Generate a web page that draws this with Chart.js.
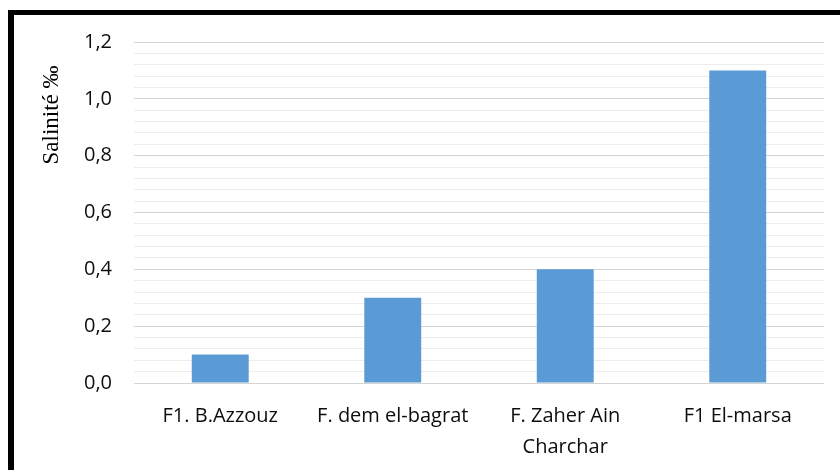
<!DOCTYPE html>
<html>
<head>
<meta charset="utf-8">
<script src="https://cdn.jsdelivr.net/npm/chart.js@4.4.1/dist/chart.umd.min.js"></script>
<style>
    html, body { margin: 0; padding: 0; background: #fff; overflow: hidden; }
    #frame {
        position: absolute;
        left: 8px;
        top: 10px;
        width: 826px;
        height: 455px;
        border-left: 6px solid #000;
        border-top: 5px solid #000;
        background: #fff;
    }
    #salChart { display: block; }
</style>
</head>
<body>
<div id="frame"><canvas id="salChart" width="826" height="455"></canvas></div>
<script>
// Salinity per well
const stations = ['F1. B.Azzouz', 'F. dem el-bagrat', ['F. Zaher Ain', 'Charchar'], 'F1 El-marsa'];
const salinity = [0.1, 0.3, 0.4, 1.1];
const yMin = 0;
const yMax = 1.2;
const minorStep = 0.04;   // light lines every 0.04, labelled lines every 0.2

const isMajor = v => Math.round(v * 100) % 20 === 0;

// Rotated serif title, sitting near the top of the value axis
const axisTitle = {
    id: 'axisTitle',
    afterDraw(chart) {
        const ctx = chart.ctx;
        ctx.save();
        ctx.translate(38, 100);
        ctx.rotate(-Math.PI / 2);
        ctx.font = '23px "Liberation Serif", "Times New Roman", serif';
        ctx.fillStyle = '#000';
        ctx.textAlign = 'center';
        ctx.textBaseline = 'middle';
        ctx.fillText('Salinité ‰', 0, 0);
        ctx.restore();
    }
};

const ctx = document.getElementById('salChart').getContext('2d');
new Chart(ctx, {
    type: 'bar',
    data: {
        labels: stations,
        datasets: [{
            data: salinity,
            backgroundColor: '#5b9bd5',
            borderWidth: 0,
            categoryPercentage: 1,
            barPercentage: 0.33
        }]
    },
    options: {
        responsive: false,
        animation: false,
        layout: { padding: { top: 27, right: 16, left: 0, bottom: 0 } },
        plugins: {
            legend: { display: false },
            tooltip: { enabled: false }
        },
        scales: {
            x: {
                border: { display: false },
                grid: { display: false, drawTicks: false },
                ticks: {
                    color: '#0d0d0d',
                    padding: 18,
                    maxRotation: 0,
                    autoSkip: false,
                    font: { family: '"Open Sans", sans-serif', size: 20, lineHeight: 1.55 }
                },
                afterFit(scale) { scale.height = 87; }
            },
            y: {
                min: yMin,
                max: yMax,
                border: { display: false },
                grid: {
                    drawTicks: false,
                    lineWidth: 1,
                    color: c => isMajor(c.tick.value) ? '#d4d4d4' : '#ececec'
                },
                ticks: {
                    stepSize: minorStep,
                    autoSkip: false,
                    padding: 22,
                    color: '#0d0d0d',
                    font: { family: '"Open Sans", sans-serif', size: 20 },
                    callback: v => isMajor(v) ? v.toFixed(1).replace('.', ',') : ''
                },
                afterFit(scale) {
                    scale.width = 120;
                    // keep the plot top fixed by the layout padding only
                    scale.paddingTop = 0;
                    scale.paddingBottom = 0;
                }
            }
        }
    },
    plugins: [axisTitle]
});
</script>
</body>
</html>
